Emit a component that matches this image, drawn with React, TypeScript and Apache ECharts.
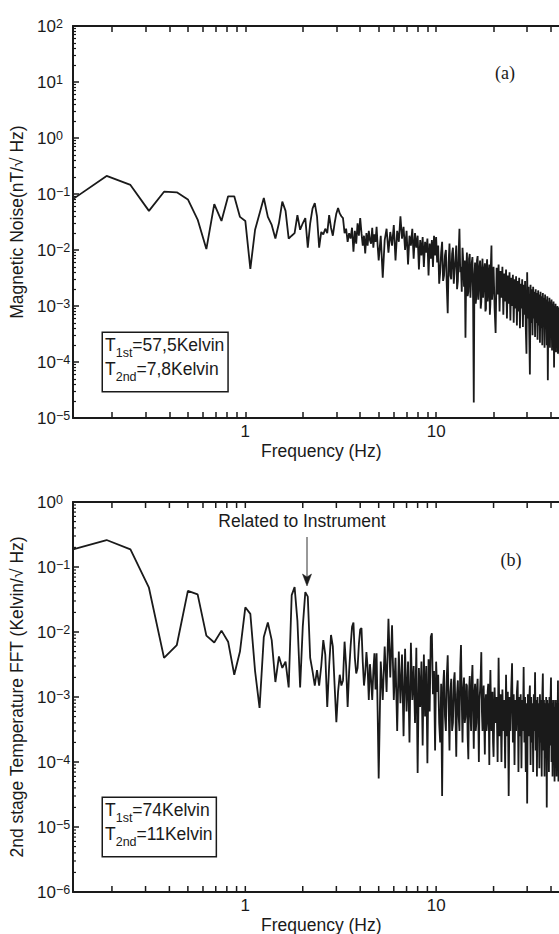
import React, { useEffect, useRef } from "react";
import * as echarts from "echarts";

// ---------- frequency bins (FFT grid, Hz) ----------
const BIN_LOW = { start: 0.125, step: 0.0625 };
const BIN_MID = { start: 5.125, step: 0.125 };
const BIN_MID2 = { start: 10.125, step: 0.125 };
const BIN_HIGH = { start: 20.25, step: 0.25 };

// ---------- (a) magnetic noise, nT/sqrt(Hz) ----------
const MAG_LOW = [
  0.081, 0.21, 0.145, 0.05, 0.11, 0.107, 0.08, 0.035, 0.0104, 0.066,
  0.033, 0.091, 0.091, 0.039, 0.033, 0.0046, 0.023, 0.045, 0.085, 0.039,
  0.028, 0.016, 0.03, 0.073, 0.05, 0.016, 0.018, 0.02, 0.042, 0.023,
  0.03, 0.037, 0.011, 0.03, 0.055, 0.069, 0.04, 0.011, 0.021, 0.019,
  0.024, 0.02, 0.042, 0.025, 0.018, 0.03, 0.045, 0.056, 0.045, 0.04,
  0.037, 0.02, 0.024, 0.014, 0.02, 0.016, 0.025, 0.0093, 0.022, 0.013,
  0.03, 0.018, 0.037, 0.02, 0.012, 0.018, 0.0087, 0.02, 0.012, 0.022,
  0.015, 0.013, 0.025, 0.011, 0.019, 0.014, 0.026, 0.012, 0.0065,
];
const MAG_MID = [
  0.018, 0.0032, 0.015, 0.024, 0.009, 0.021, 0.012, 0.028, 0.0065, 0.022,
  0.014, 0.04, 0.016, 0.026, 0.01, 0.022, 0.0055, 0.018, 0.012, 0.024,
  0.007, 0.02, 0.011, 0.018, 0.0045, 0.015, 0.008, 0.017, 0.005, 0.014,
  0.009, 0.016, 0.0035, 0.013, 0.007, 0.015, 0.005, 0.018, 0.008, 0.017,
];
const MAG_MID2 = [
  0.006, 0.012, 0.0025, 0.004, 0.009, 0.014, 0.0028, 0.0035, 0.008, 0.01,
  0.0022, 0.00074, 0.006, 0.013, 0.0035, 0.003, 0.0085, 0.011, 0.0025, 0.0045,
  0.007, 0.012, 0.002, 0.0028, 0.009, 0.024, 0.004, 0.005, 0.0018, 0.011,
  0.006, 0.0022, 0.0065, 0.00027, 0.004, 0.009, 0.0015, 0.0018, 0.007, 0.0085,
  0.0014, 0.003, 0.006, 0.0075, 0.0012, 0.000019, 0.0035, 0.006, 0.0011, 0.0015,
  0.0065, 0.0078, 0.0013, 0.0022, 0.005, 0.0065, 0.0009, 0.0012, 0.0045, 0.007,
  0.0014, 0.0025, 0.0045, 0.0058, 0.0008, 0.0009, 0.005, 0.0068, 0.0012, 0.002,
  0.004, 0.0055, 0.0007, 0.0011, 0.006, 0.012, 0.0013, 0.0018, 0.0035, 0.005,
];
const MAG_HIGH = [
  0.0009, 0.00033, 0.0048, 0.0016, 0.0055, 0.0008, 0.0042, 0.0014, 0.005, 0.0007,
  0.0038, 0.0012, 0.0045, 0.0006, 0.0035, 0.0011, 0.004, 0.00055, 0.0032, 0.001,
  0.0036, 0.0005, 0.003, 0.0009, 0.0034, 0.00045, 0.0028, 0.0008, 0.0032, 0.0004,
  0.0025, 0.0009, 0.003, 0.00042, 0.0024, 0.0007, 0.0028, 0.0004, 0.00014, 0.004,
  0.0006, 0.0022, 0.00035, 0.00006, 0.0024, 0.0005, 0.002, 0.0003, 0.0022, 0.0006,
  0.0018, 0.00028, 0.002, 0.0005, 0.0017, 0.00025, 0.0019, 0.00045, 0.0016, 0.00022,
  0.0018, 0.0004, 0.0015, 0.0002, 0.0017, 0.00042, 0.0014, 0.00018, 0.0016, 0.0004,
  0.0013, 0.0002, 0.0015, 0.000047, 0.0012, 0.00035, 0.0014, 0.00018, 0.0012, 0.00032,
  0.0013, 0.00016, 0.0011, 0.0003, 0.0012, 0.00008, 0.001, 0.00028, 0.0011, 0.00015,
  0.00095, 0.00026, 0.001, 0.00014, 0.0009, 0.00025, 0.00095, 0.00013, 0.00085, 0.00024,
  0.0009, 0.00012, 0.0008, 0.00022, 0.00085, 0.00012, 0.00075, 0.0002, 0.0008, 0.00011,
  0.0007, 0.0002, 0.00075, 0.0001, 0.00065, 0.00018, 0.0007, 0.0001, 0.0006, 0.00018,
];

// ---------- (b) 2nd stage temperature FFT, Kelvin/sqrt(Hz) ----------
const TEMP_LOW = [
  0.187, 0.26, 0.187, 0.048, 0.004, 0.0063, 0.043, 0.038, 0.0088, 0.0069,
  0.0105, 0.0071, 0.0022, 0.005, 0.024, 0.019, 0.0025, 0.00068, 0.0084, 0.014,
  0.0075, 0.0017, 0.0042, 0.0028, 0.0035, 0.0014, 0.037, 0.049, 0.015, 0.0014,
  0.012, 0.041, 0.035, 0.004, 0.0025, 0.0015, 0.0026, 0.0015, 0.003, 0.0075,
  0.0045, 0.0007, 0.003, 0.009, 0.006, 0.0015, 0.00041, 0.0012, 0.0022, 0.0015,
  0.0018, 0.0071, 0.003, 0.0007, 0.0025, 0.006, 0.012, 0.014, 0.004, 0.0023,
  0.0028, 0.0065, 0.011, 0.0115, 0.0035, 0.0015, 0.0023, 0.0049, 0.0028, 0.0009,
  0.0032, 0.0018, 0.0009, 0.0025, 0.0047, 0.0013, 0.0047, 0.0006, 0.000056,
];
const TEMP_MID = [
  0.0035, 0.0009, 0.006, 0.0012, 0.016, 0.002, 0.0127, 0.0009, 0.004, 0.0003,
  0.005, 0.0008, 0.0045, 0.00025, 0.0055, 0.0006, 0.0035, 0.0002, 0.0068, 0.0009,
  0.003, 0.0004, 0.0057, 0.000068, 0.0028, 0.0007, 0.0035, 0.00018, 0.0045, 0.0005,
  0.003, 0.000096, 0.0038, 0.0006, 0.0084, 0.0096, 0.0011, 0.0025, 0.00015, 0.0035,
];
const TEMP_MID2 = [
  0.0012, 0.0022, 0.0004, 0.0002, 0.0016, 0.00003, 0.0014, 0.0026, 0.0005, 0.0003,
  0.0021, 0.0044, 0.0008, 0.00015, 0.0012, 0.0019, 0.0003, 0.0004, 0.0017, 0.0024,
  0.0006, 0.00012, 0.0011, 0.0018, 0.0005, 0.0003, 0.0028, 0.0063, 0.0009, 0.0002,
  0.0013, 0.002, 0.0004, 0.0005, 0.0016, 0.0015, 0.00025, 0.00011, 0.0012, 0.0021,
  0.0006, 0.0003, 0.0018, 0.0031, 0.0007, 0.00016, 0.0011, 0.0016, 0.0003, 0.0004,
  0.0014, 0.0019, 0.0005, 0.0001, 0.0009, 0.0013, 0.0022, 0.0049, 0.0006, 0.0003,
  0.001, 0.0015, 0.0004, 0.00013, 0.0008, 0.0011, 0.0003, 0.0004, 0.0012, 0.0016,
  0.0005, 0.00009, 0.0011, 0.0026, 0.0007, 0.0003, 0.0009, 0.0012, 0.0002, 0.00012,
];
const TEMP_HIGH = [
  0.0014, 0.0004, 0.001, 0.0001, 0.004, 0.00025, 0.0011, 0.0001, 0.0013, 0.0003,
  0.0009, 0.00008, 0.0022, 0.00025, 0.0012, 0.00003, 0.001, 0.0003, 0.0013, 0.0033,
  0.0002, 0.0011, 0.00009, 0.0009, 0.0003, 0.0012, 0.0018, 0.00007, 0.001, 0.00025,
  0.0011, 0.00008, 0.0009, 0.0003, 0.0029, 0.0002, 0.001, 0.00007, 0.0008, 0.000023,
  0.0011, 0.00025, 0.0009, 0.0015, 0.00009, 0.001, 0.0002, 0.0008, 0.00007, 0.0011,
  0.0003, 0.0024, 0.00015, 0.0009, 0.00006, 0.001, 0.00025, 0.0008, 0.00008, 0.0011,
  0.0002, 0.0009, 0.00006, 0.001, 0.0023, 0.00015, 0.0009, 0.00006, 0.0008, 0.00025,
  0.001, 0.00002, 0.0009, 0.0002, 0.0008, 0.00007, 0.001, 0.00018, 0.0009, 0.002,
  0.0001, 0.0008, 0.00006, 0.0009, 0.0002, 0.0007, 0.00005, 0.0009, 0.00018, 0.0008,
  0.00006, 0.0009, 0.0002, 0.0018, 0.00005, 0.0008, 0.00015, 0.0007, 0.00005, 0.0008,
  0.00015, 0.0007, 0.00005, 0.0016, 0.00012, 0.0007, 0.00005, 0.0008, 0.00014, 0.0006,
  0.00005, 0.0007, 0.00012, 0.0015, 0.00005, 0.0007, 0.00012, 0.0006, 0.00005, 0.0007,
];

// ---------- axes ----------
const X_MIN = 0.125;
const X_MAX = 50;
const X_LABELS = [1, 10];
const X_TICKS = [0.2, 0.3, 0.4, 0.5, 0.6, 0.7, 0.8, 0.9, 1, 2, 3, 4, 5, 6, 7, 8, 9, 10, 20, 30, 40];
const Y_A_LABELS = [1e-5, 1e-4, 1e-3, 1e-2, 1e-1, 1, 10, 100];
const Y_B_LABELS = [1e-6, 1e-5, 1e-4, 1e-3, 1e-2, 1e-1, 1];
const MINOR_MULT = [2, 3, 4, 5, 6, 7, 8, 9];

const X_TITLE = "Frequency (Hz)";
const Y_A_TITLE = "Magnetic Noise(nT/\u221A Hz)";
const Y_B_TITLE = "2nd stage Temperature FFT (Kelvin/\u221A Hz)";
const BOX_A = ["1st", "=57,5Kelvin", "2nd", "=7,8Kelvin"];
const BOX_B = ["1st", "=74Kelvin", "2nd", "=11Kelvin"];
const NOTE = "Related to Instrument";

const SANS = '"Liberation Sans", Arial, Helvetica, sans-serif';
const SERIF = '"Liberation Serif", "Times New Roman", serif';
const INK = "#1a1a1a";
const TICK_B = INK;

function pairs(bin: { start: number; step: number }, vals: number[]) {
  return vals.map((v, i) => [Number((bin.start + i * bin.step).toFixed(4)), v]);
}

function minorTicks(labels: number[]) {
  const out: number[] = [];
  for (let i = 0; i < labels.length - 1; i++) {
    for (const m of MINOR_MULT) out.push(Number((labels[i] * m).toPrecision(3)));
  }
  return out;
}

function expLabel(v: number) {
  const e = Math.round(Math.log10(v));
  const s = e < 0 ? "\u2212" + String(-e) : String(e);
  return "{b|10}{e|" + s + "}";
}

function xAxesFor(gridIndex: number, nativeTicks: boolean) {
  const common = {
    type: "log",
    logBase: 10,
    gridIndex,
    min: X_MIN,
    max: X_MAX,
    splitLine: { show: false },
    minorTick: { show: false },
    minorSplitLine: { show: false },
    axisLine: { show: true, onZero: false, lineStyle: { color: INK, width: 2 } },
    axisTick: nativeTicks
      ? { show: true, inside: true, length: 6, customValues: X_TICKS.slice(), lineStyle: { color: INK, width: 1.5 } }
      : { show: false },
  };
  return [
    {
      ...common,
      position: "bottom",
      axisLabel: {
        show: true,
        customValues: X_LABELS.slice(),
        formatter: (v: number) => String(Math.round(v)),
        color: INK,
        fontFamily: SANS,
        fontSize: 17,
        margin: 5,
        hideOverlap: false,
      },
      name: X_TITLE,
      nameLocation: "middle",
      nameGap: 24,
      nameTextStyle: { color: INK, fontFamily: SANS, fontSize: 17.5 },
    },
    { ...common, position: "top", axisLabel: { show: false } },
  ];
}

function yAxesFor(gridIndex: number, labels: number[], title: string, nativeTicks: boolean) {
  const base = {
    type: "log",
    logBase: 10,
    gridIndex,
    min: labels[0],
    max: labels[labels.length - 1],
    position: "left",
    splitLine: { show: false },
    minorTick: { show: false },
    minorSplitLine: { show: false },
  };
  return [
    {
      ...base,
      axisLine: { show: true, onZero: false, lineStyle: { color: INK, width: 2 } },
      axisTick: nativeTicks
        ? { show: true, inside: true, length: 6, customValues: labels.slice(), lineStyle: { color: INK, width: 1.5 } }
        : { show: false },
      axisLabel: {
        show: true,
        customValues: labels.slice(),
        formatter: expLabel,
        align: "left",
        margin: 36,
        hideOverlap: false,
        rich: {
          b: { fontSize: 17, fontFamily: SANS, color: INK, lineHeight: 17, verticalAlign: "bottom" },
          e: { fontSize: 12.5, fontFamily: SANS, color: INK, lineHeight: 12, verticalAlign: "top", padding: [0, 0, 8.5, 0] },
        },
      },
      name: title,
      nameLocation: "middle",
      nameGap: 44,
      nameRotate: 90,
      nameTextStyle: { color: INK, fontFamily: SANS, fontSize: 17.5 },
    },
    {
      ...base,
      axisLine: { show: false },
      axisTick: nativeTicks
        ? { show: true, inside: true, length: 3, customValues: minorTicks(labels), lineStyle: { color: INK, width: 1.2 } }
        : { show: false },
      axisLabel: { show: false },
    },
  ];
}

// tick marks placed through the chart's own axis scales (convertToPixel)
function tickGraphics(chart: any, xIdx: number, yIdx: number, yLabels: number[], color: string) {
  const out: any[] = [];
  const yMin = yLabels[0];
  const yMax = yLabels[yLabels.length - 1];
  const finder = { xAxisIndex: xIdx, yAxisIndex: yIdx };
  const st = { stroke: color, lineWidth: 1.5 };
  for (const v of X_TICKS) {
    const b = chart.convertToPixel(finder, [v, yMin]);
    const t = chart.convertToPixel(finder, [v, yMax]);
    if (!b || !t) continue;
    out.push({ type: "line", z: 50, silent: true, shape: { x1: b[0], y1: b[1], x2: b[0], y2: b[1] - 6 }, style: st });
    out.push({ type: "line", z: 50, silent: true, shape: { x1: t[0], y1: t[1], x2: t[0], y2: t[1] + 6 }, style: st });
  }
  for (const v of yLabels) {
    const p = chart.convertToPixel(finder, [X_MIN, v]);
    if (!p) continue;
    out.push({ type: "line", z: 50, silent: true, shape: { x1: p[0], y1: p[1], x2: p[0] + 6, y2: p[1] }, style: st });
  }
  for (const v of minorTicks(yLabels)) {
    const p = chart.convertToPixel(finder, [X_MIN, v]);
    if (!p) continue;
    out.push({
      type: "line",
      z: 50,
      silent: true,
      shape: { x1: p[0], y1: p[1], x2: p[0] + 3, y2: p[1] },
      style: { stroke: color, lineWidth: 1.2 },
    });
  }
  return out;
}

function boxText(parts: string[], x: number, y: number) {
  return {
    type: "text",
    x,
    y,
    z: 100,
    style: {
      text: "{t|T}{s|" + parts[0] + "}{t|" + parts[1] + "}\n{t|T}{s|" + parts[2] + "}{t|" + parts[3] + "}",
      align: "left",
      verticalAlign: "top",
      fill: INK,
      backgroundColor: "#fff",
      borderColor: INK,
      borderWidth: 1.5,
      padding: [3, 3, 7, 2],
      rich: {
        t: { fontSize: 17.5, fontFamily: SANS, fill: INK, lineHeight: 24, verticalAlign: "top" },
        s: { fontSize: 12.5, fontFamily: SANS, fill: INK, lineHeight: 12, verticalAlign: "top", padding: [10.5, 0, 0, 0] },
      },
    },
  };
}

export default function App() {
  const ref = useRef<HTMLDivElement>(null);

  useEffect(() => {
    if (!ref.current) return;
    const chart = echarts.init(ref.current, undefined, { renderer: "svg" });
    const magData = [
      ...pairs(BIN_LOW, MAG_LOW),
      ...pairs(BIN_MID, MAG_MID),
      ...pairs(BIN_MID2, MAG_MID2),
      ...pairs(BIN_HIGH, MAG_HIGH),
    ];
    const tempData = [
      ...pairs(BIN_LOW, TEMP_LOW),
      ...pairs(BIN_MID, TEMP_MID),
      ...pairs(BIN_MID2, TEMP_MID2),
      ...pairs(BIN_HIGH, TEMP_HIGH),
    ];

    const baseGraphics: any[] = [
      boxText(BOX_A, 103, 333),
      boxText(BOX_B, 103, 798),
      {
        type: "text",
        x: 505,
        y: 73,
        style: { text: "(a)", fontFamily: SERIF, fontSize: 18, fill: INK, align: "center", verticalAlign: "middle" },
      },
      {
        type: "text",
        x: 511,
        y: 560,
        style: { text: "(b)", fontFamily: SERIF, fontSize: 18, fill: INK, align: "center", verticalAlign: "middle" },
      },
      {
        type: "text",
        x: 302,
        y: 521,
        style: { text: NOTE, fontFamily: SANS, fontSize: 17.5, fill: INK, align: "center", verticalAlign: "middle" },
      },
      {
        type: "line",
        shape: { x1: 307, y1: 537, x2: 307, y2: 578 },
        style: { stroke: "#333", lineWidth: 1 },
      },
      {
        type: "polygon",
        shape: { points: [[302.5, 574], [307, 586], [311.5, 574], [307, 577]] },
        style: { fill: INK, stroke: INK, lineWidth: 0.5 },
      },
    ];

    const option: any = {
      animation: false,
      backgroundColor: "#fff",
      textStyle: { fontFamily: SANS },
      grid: [
        { left: 73, top: 26, width: 496.5, height: 392, outerBoundsMode: "none", containLabel: false },
        { left: 73, top: 502, width: 496.5, height: 390, outerBoundsMode: "none", containLabel: false },
      ],
      xAxis: [...xAxesFor(0, true), ...xAxesFor(1, false)],
      yAxis: [...yAxesFor(0, Y_A_LABELS, Y_A_TITLE, true), ...yAxesFor(1, Y_B_LABELS, Y_B_TITLE, false)],
      series: [
        {
          type: "line",
          xAxisIndex: 0,
          yAxisIndex: 0,
          data: magData,
          showSymbol: false,
          symbol: "none",
          clip: true,
          lineStyle: { color: INK, width: 1.8 },
        },
        {
          type: "line",
          xAxisIndex: 2,
          yAxisIndex: 2,
          data: tempData,
          showSymbol: false,
          symbol: "none",
          clip: true,
          lineStyle: { color: INK, width: 1.8 },
        },
      ],
      graphic: baseGraphics,
    };
    chart.setOption(option);
    const ticksB = tickGraphics(chart, 2, 2, Y_B_LABELS, TICK_B);
    chart.setOption({ graphic: [...baseGraphics, ...ticksB] });
    return () => chart.dispose();
  }, []);

  return (
    <div style={{ position: "absolute", left: 0, top: 0, width: 559, height: 934, overflow: "hidden", background: "#fff" }}>
      <div ref={ref} style={{ width: 600, height: 934 }} />
    </div>
  );
}
